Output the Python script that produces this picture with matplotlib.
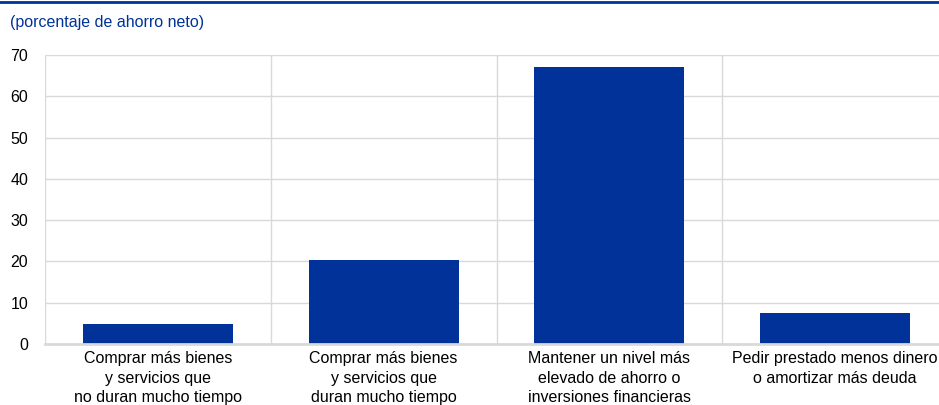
import matplotlib
matplotlib.use("Agg")
import matplotlib.pyplot as plt
from matplotlib.lines import Line2D

plt.rcParams['font.family'] = ['Liberation Sans', 'DejaVu Sans']

categories = [
    "Comprar más bienes\ny servicios que\nno duran mucho tiempo",
    "Comprar más bienes\ny servicios que\nduran mucho tiempo",
    "Mantener un nivel más\nelevado de ahorro o\ninversiones financieras",
    "Pedir prestado menos dinero\no amortizar más deuda",
]
values = [4.8, 20.3, 67.0, 7.5]
yticks = [0, 10, 20, 30, 40, 50, 60, 70]
subtitle = "(porcentaje de ahorro neto)"

W, H = 939, 405
fig = plt.figure(figsize=(W / 100, H / 100), dpi=100)
left, right = 45, 948
top, bottom = 55, 344
ax = fig.add_axes([left / W, 1 - bottom / H, (right - left) / W, (bottom - top) / H])

blue = "#003299"
grid = "#d9d9d9"
x = list(range(len(values)))
ax.bar(x, values, width=0.665, color=blue, zorder=3)
ax.set_xlim(-0.5, len(values) - 0.5)
ax.set_ylim(0, 70)
ax.set_yticks(yticks)
ax.set_yticklabels([str(t) for t in yticks], fontsize=11.5)
ax.set_xticks(x)
ax.set_xticklabels(categories, fontsize=11.5, linespacing=1.38, va="top")
ax.tick_params(axis="both", length=0, colors="black")
ax.tick_params(axis="y", pad=12)
ax.tick_params(axis="x", pad=5)
ax.yaxis.grid(True, color=grid, linewidth=1, zorder=0)
for b in [i + 0.5 for i in range(-1, len(values))]:
    ax.axvline(b, color=grid, linewidth=1, zorder=0)
for s in ["top", "right", "left"]:
    ax.spines[s].set_visible(False)
ax.spines["bottom"].set_color(grid)
ax.spines["bottom"].set_linewidth(2)
ax.spines["bottom"].set_zorder(4)

fig.text(10 / W, 1 - 22 / H, subtitle, color=blue, fontsize=11.5, va="center", ha="left")
fig.add_artist(Line2D([0, 1], [1 - 2 / H, 1 - 2 / H], color=blue, linewidth=2, transform=fig.transFigure))

fig.savefig("out.png", dpi=100)
